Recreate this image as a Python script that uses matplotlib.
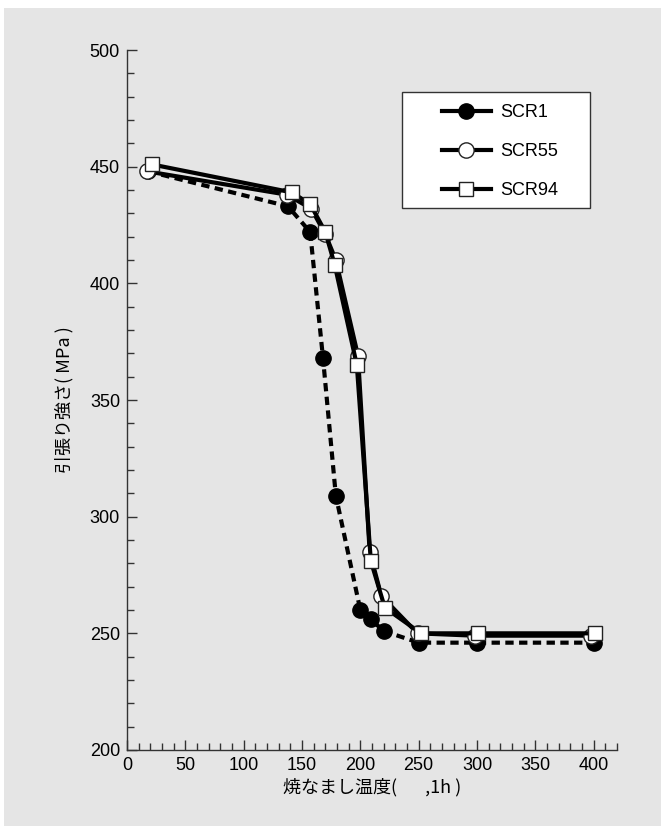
import matplotlib
matplotlib.use("Agg")
import matplotlib.pyplot as plt
from matplotlib.patches import Rectangle
from matplotlib.ticker import MultipleLocator

# ---- data ----
scr1_x = [18, 138, 157, 168, 179, 200, 209, 220, 250, 300, 400]
scr1_y = [448, 433, 422, 368, 309, 260, 256, 251, 246, 246, 246]

scr55_x = [17, 137, 158, 170, 179, 198, 208, 218, 249, 298, 398]
scr55_y = [448, 438, 432, 421, 410, 369, 285, 266, 250, 249, 249]

scr94_x = [21, 141, 157, 170, 178, 197, 209, 221, 252, 301, 401]
scr94_y = [451, 439, 434, 422, 408, 365, 281, 261, 250, 250, 250]

labels = ["SCR1", "SCR55", "SCR94"]
x_ticks = [0, 50, 100, 150, 200, 250, 300, 350, 400]
y_ticks = [200, 250, 300, 350, 400, 450, 500]
xlabel = "焼なまし温度(       ,1h )"
ylabel = "引張り強さ( MPa )"

plt.rcParams['font.family'] = ['Liberation Sans', 'Noto Sans CJK JP', 'DejaVu Sans']
FS = 13

W, H = 661, 826
fig = plt.figure(figsize=(W/100, H/100), dpi=100, facecolor='white')
fig.patches.append(Rectangle((4/W, 0), 1, 1 - 8/H, transform=fig.transFigure,
                             facecolor='#e5e5e5', edgecolor='none', zorder=-10))

ax_l, ax_r, ax_t, ax_b = 127, 617, 50, 750
ax = fig.add_axes([ax_l/W, 1 - ax_b/H, (ax_r - ax_l)/W, (ax_b - ax_t)/H])
ax.set_facecolor('none')

lw = 3.0
ax.plot(scr1_x, scr1_y, color='black', lw=lw, ls=(0, (2.0, 1.3)),
        marker='o', ms=11, mfc='black', mec='black', mew=1, label=labels[0], zorder=3)
ax.plot(scr55_x, scr55_y, color='black', lw=lw, ls='-',
        marker='o', ms=11, mfc='white', mec='#222222', mew=1, label=labels[1], zorder=4)
ax.plot(scr94_x, scr94_y, color='black', lw=lw, ls='-',
        marker='s', ms=10, mfc='white', mec='#222222', mew=1, label=labels[2], zorder=5)

ax.set_xlim(0, 420)
ax.set_ylim(200, 500)
ax.set_xticks(x_ticks)
ax.set_yticks(y_ticks)
ax.xaxis.set_minor_locator(MultipleLocator(10))
ax.yaxis.set_minor_locator(MultipleLocator(10))
ax.tick_params(which='both', direction='in', colors='#333333', labelcolor='black',
               labelsize=FS, width=1)
ax.tick_params(which='major', length=7.5, pad=5)
ax.tick_params(which='minor', length=5)
for s in ['top', 'right']:
    ax.spines[s].set_visible(False)
for s in ['left', 'bottom']:
    ax.spines[s].set_color('#333333')
    ax.spines[s].set_linewidth(1)

ax.set_xlabel(xlabel, fontsize=FS, family=['Noto Sans CJK JP', 'DejaVu Sans'], labelpad=3)
ax.set_ylabel(ylabel, fontsize=FS, family=['Noto Sans CJK JP', 'DejaVu Sans'], labelpad=12)

# legend frame (drawn separately to get the wide side padding)
axw, axh = ax_r - ax_l, ax_b - ax_t
fx0, fx1, fy0, fy1 = 402, 590, 92, 208
ax.add_patch(Rectangle(((fx0 - ax_l)/axw, (ax_b - fy1)/axh), (fx1 - fx0)/axw, (fy1 - fy0)/axh,
                       transform=ax.transAxes, facecolor='white', edgecolor='#333333',
                       lw=1, zorder=6))
leg = ax.legend(loc='upper left', bbox_to_anchor=((442 - ax_l)/axw, (ax_b - 104)/axh),
                frameon=False, fontsize=FS, handlelength=2.7, borderpad=0,
                labelspacing=1.22, handletextpad=0.55, borderaxespad=0)
leg.set_zorder(7)
for h in leg.legend_handles:
    h.set_linestyle('-')

fig.savefig('out.png', dpi=100, facecolor=fig.get_facecolor())
